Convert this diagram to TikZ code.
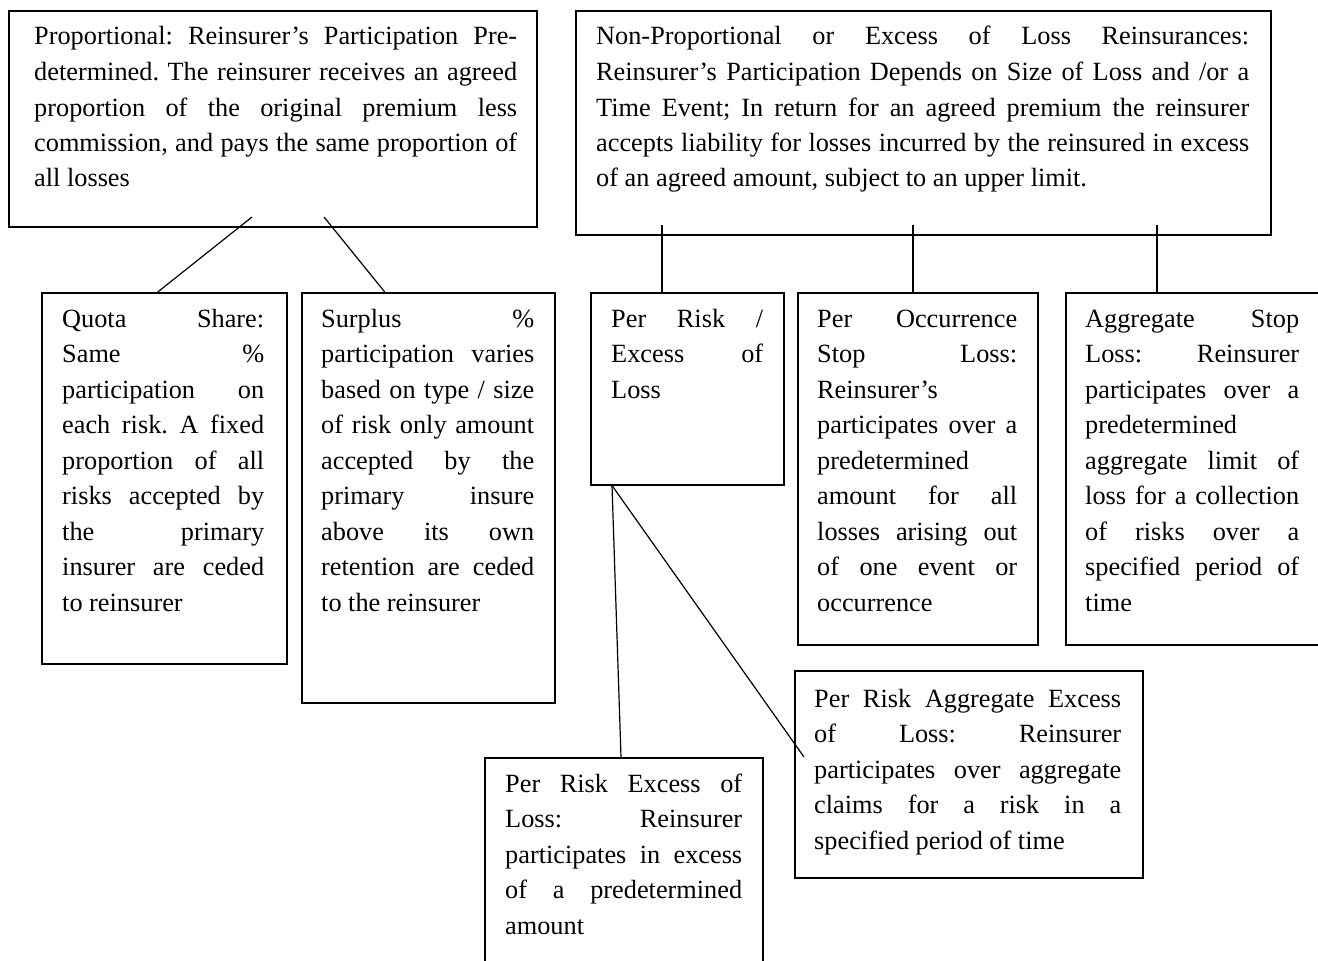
\documentclass[tikz,border=0pt]{standalone}
\usepackage{fontspec}
\setmainfont{Liberation Serif}
\usetikzlibrary{calc}
\frenchspacing
\newcommand\JLine[1]{\makebox[\linewidth][s]{#1}\par}
\newcommand\LLine[1]{\makebox[\linewidth][l]{#1}\par}
\newcommand\TBlock[2]{\parbox[t]{#1}{\fontsize{26.3}{35.5}\selectfont\frenchspacing\parindent=0pt\baselineskip=35.5pt #2}}
\tikzset{
  boxnode/.style={draw=black, line width=1.5pt, inner sep=0pt, anchor=north west, rectangle},
  txtnode/.style={inner sep=0pt, anchor=base west},
  conn/.style={draw=black, line width=1.2pt}
}
\begin{document}
\begin{tikzpicture}[x=1pt,y=-1pt]
\useasboundingbox (0,0) rectangle (1318,961);
\fill[white] (0,0) rectangle (1318,961);
% boxes
\node[boxnode, minimum width=528pt, minimum height=216pt] (A) at (8,10) {};
\node[boxnode, minimum width=695pt, minimum height=224pt] (B) at (575,10) {};
\node[boxnode, minimum width=245pt, minimum height=371pt] (Q) at (41,292) {};
\node[boxnode, minimum width=253pt, minimum height=410pt] (S) at (301,292) {};
\node[boxnode, minimum width=193pt, minimum height=192pt] (PR) at (590,292) {};
\node[boxnode, minimum width=240pt, minimum height=352pt] (O) at (797,292) {};
\node[boxnode, minimum width=270pt, minimum height=352pt] (G) at (1065,292) {};
\node[boxnode, minimum width=278pt, minimum height=230pt] (E) at (484,757) {};
\node[boxnode, minimum width=348pt, minimum height=207pt] (R) at (794,670) {};
% texts
\node[txtnode] (tA) at (34,45) {\TBlock{483pt}{%
\JLine{Proportional: Reinsurer’s Participation Pre-}
\JLine{determined. The reinsurer receives an agreed}
\JLine{proportion of the original premium less}
\JLine{commission, and pays the same proportion of}
\LLine{all losses}}};
\node[txtnode] (tB) at (596,45) {\TBlock{653pt}{%
\JLine{Non-Proportional or Excess of Loss Reinsurances:}
\JLine{Reinsurer’s Participation Depends on Size of Loss and /or a}
\JLine{Time Event; In return for an agreed premium the reinsurer}
\JLine{accepts liability for losses incurred by the reinsured in excess}
\LLine{of an agreed amount, subject to an upper limit.}}};
\node[txtnode] (tQ) at (62,327) {\TBlock{202pt}{%
\JLine{Quota Share:}
\JLine{Same \%}
\JLine{participation on}
\JLine{each risk. A fixed}
\JLine{proportion of all}
\JLine{risks accepted by}
\JLine{the primary}
\JLine{insurer are ceded}
\LLine{to reinsurer}}};
\node[txtnode] (tS) at (321,327) {\TBlock{213pt}{%
\JLine{Surplus \%}
\JLine{participation varies}
\JLine{based on type / size}
\JLine{of risk only amount}
\JLine{accepted by the}
\JLine{primary insure}
\JLine{above its own}
\JLine{retention are ceded}
\LLine{to the reinsurer}}};
\node[txtnode] (tPR) at (611,327) {\TBlock{152pt}{%
\JLine{Per Risk /}
\JLine{Excess of}
\LLine{Loss}}};
\node[txtnode] (tO) at (817,327) {\TBlock{200pt}{%
\JLine{Per Occurrence}
\JLine{Stop Loss:}
\LLine{Reinsurer’s}
\JLine{participates over a}
\LLine{predetermined}
\JLine{amount for all}
\JLine{losses arising out}
\JLine{of one event or}
\LLine{occurrence}}};
\node[txtnode] (tG) at (1085,327) {\TBlock{214pt}{%
\JLine{Aggregate Stop}
\JLine{Loss: Reinsurer}
\JLine{participates over a}
\LLine{predetermined}
\JLine{aggregate limit of}
\JLine{loss for a collection}
\JLine{of risks over a}
\JLine{specified period of}
\LLine{time}}};
\node[txtnode] (tE) at (505,792) {\TBlock{237pt}{%
\JLine{Per Risk Excess of}
\JLine{Loss: Reinsurer}
\JLine{participates in excess}
\JLine{of a predetermined}
\LLine{amount}}};
\node[txtnode] (tR) at (814,707) {\TBlock{307pt}{%
\JLine{Per Risk Aggregate Excess}
\JLine{of Loss: Reinsurer}
\JLine{participates over aggregate}
\JLine{claims for a risk in a}
\LLine{specified period of time}}};
% connector start points
\coordinate (a1) at (252,217);
\coordinate (a2) at (324,217);
\coordinate (b1) at (662,225);
\coordinate (b2) at (913,225);
\coordinate (b3) at (1157,225);
\coordinate (r1) at (804,757);
% connectors
\draw[conn] (a1) -- ([xshift=-6.5pt]Q.north);
\draw[conn] (a2) -- ([xshift=-43.5pt]S.north);
\draw[conn] (b1) -- (b1 |- PR.north);
\draw[conn] (b2) -- (b2 |- O.north);
\draw[conn] (b3) -- (b3 |- G.north);
\draw[conn] ([xshift=22pt]PR.south west) -- ([xshift=137pt]E.north west);
\draw[conn] ([xshift=22pt]PR.south west) -- (r1);
\end{tikzpicture}
\end{document}
